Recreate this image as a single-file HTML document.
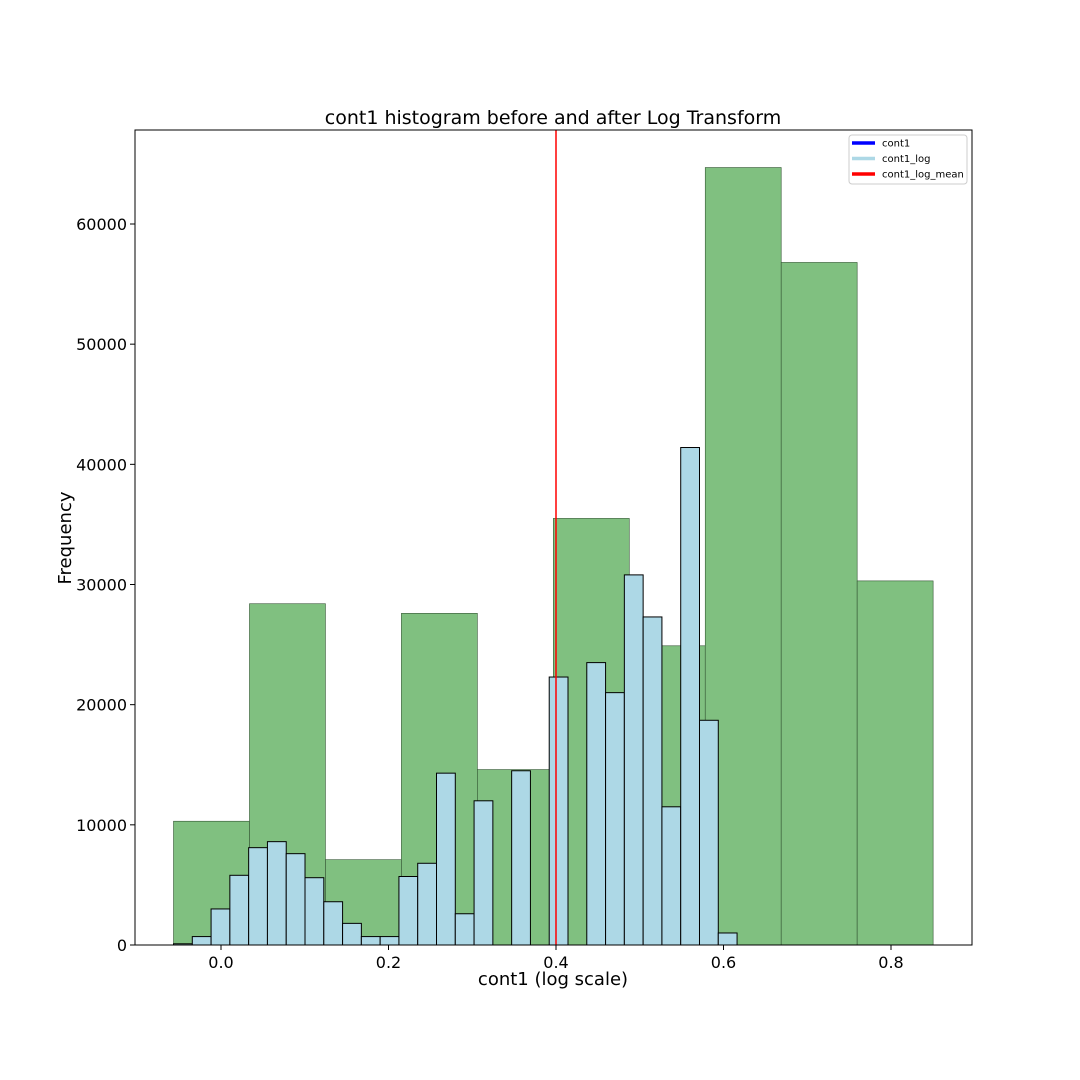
<!DOCTYPE html>
<html><head><meta charset="utf-8"><style>body{margin:0;background:#fff}svg{display:block;font-family:"DejaVu Sans","Liberation Sans",sans-serif}</style></head>
<body>
<svg id="chart" width="1080" height="1080" xmlns="http://www.w3.org/2000/svg"></svg>
<script>
const greenStart = -0.0567;
const greenWidth = 0.0907;
const greenCounts = [10300, 28400, 7100, 27600, 14600, 35500, 24900, 64700, 56800, 30300];
const blueStart = -0.0567;
const blueWidth = 0.02243;
const blueCounts = [100, 700, 3000, 5800, 8100, 8600, 7600, 5600, 3600, 1800, 700, 700, 5700, 6800, 14300, 2600, 12000, 0, 14500, 0, 22300, 0, 23500, 21000, 30800, 27300, 11500, 41400, 18700, 1000];
const meanValue = 0.4;
const xTicks = [0.0, 0.2, 0.4, 0.6, 0.8];
const xTickLabels = ["0.0", "0.2", "0.4", "0.6", "0.8"];
const yTicks = [0, 10000, 20000, 30000, 40000, 50000, 60000];
const yTickLabels = ["0", "10000", "20000", "30000", "40000", "50000", "60000"];

const L=135,R=972,T=130,B=945;
const xs=v=>221+(v-0)*(670/0.8);
const ys=v=>945-v*(721/60000);
const svg=document.getElementById('chart');
const NS='http://www.w3.org/2000/svg';
function mk(tag,attrs,parent){const e=document.createElementNS(NS,tag);for(const k in attrs)e.setAttribute(k,attrs[k]);(parent||svg).appendChild(e);return e;}

const gG=mk('g',{});


greenCounts.forEach((c,i)=>{const x0=xs(greenStart+i*greenWidth),x1=xs(greenStart+(i+1)*greenWidth);
const r=mk('rect',{x:x0,y:ys(c),width:x1-x0,height:ys(0)-ys(c),fill:'#80c080',stroke:'#335533','stroke-width':0.6},gG);

});

const gB=mk('g',{});


blueCounts.forEach((c,i)=>{if(c<=0)return;const x0=xs(blueStart+i*blueWidth),x1=xs(blueStart+(i+1)*blueWidth);
const r=mk('rect',{x:x0,y:ys(c),width:x1-x0,height:ys(0)-ys(c),fill:'#add8e6',stroke:'#000','stroke-width':1},gB);

});

const ml=mk('line',{x1:xs(meanValue),x2:xs(meanValue),y1:T,y2:B,stroke:'#ff0000','stroke-width':1.5});



const fr=mk('rect',{x:L,y:T,width:R-L,height:B-T,fill:'none',stroke:'#000','stroke-width':1});



xTicks.forEach((v,i)=>{const x=xs(v);mk('line',{x1:x,x2:x,y1:B,y2:B+5,stroke:'#000'});
const t=mk('text',{x:x,y:B+23,'text-anchor':'middle','font-size':16});t.textContent=xTickLabels[i];

});
yTicks.forEach((v,i)=>{const y=ys(v);mk('line',{x1:L-5,x2:L,y1:y,y2:y,stroke:'#000'});
const t=mk('text',{x:L-8,y:y+6,'text-anchor':'end','font-size':16});t.textContent=yTickLabels[i];

});

let t=mk('text',{x:553,y:124,'text-anchor':'middle','font-size':19});t.textContent='cont1 histogram before and after Log Transform';


t=mk('text',{x:553,y:985,'text-anchor':'middle','font-size':18});t.textContent='cont1 (log scale)';


t=mk('text',{x:71,y:538,'text-anchor':'middle','font-size':18,transform:'rotate(-90 71 538)'});t.textContent='Frequency';



const lg=mk('g',{});


mk('rect',{x:849,y:135,width:118,height:49,rx:3,fill:'#fff',stroke:'#ccc'},lg);
[['cont1','#0000ff'],['cont1_log','#add8e6'],['cont1_log_mean','#ff0000']].forEach((e,i)=>{const y=143+i*15.5;
mk('line',{x1:852,x2:875,y1:y,y2:y,stroke:e[1],'stroke-width':3.5},lg);
const tx=mk('text',{x:882,y:y+3.5,'font-size':10},lg);tx.textContent=e[0];

});
</script>
</body></html>
